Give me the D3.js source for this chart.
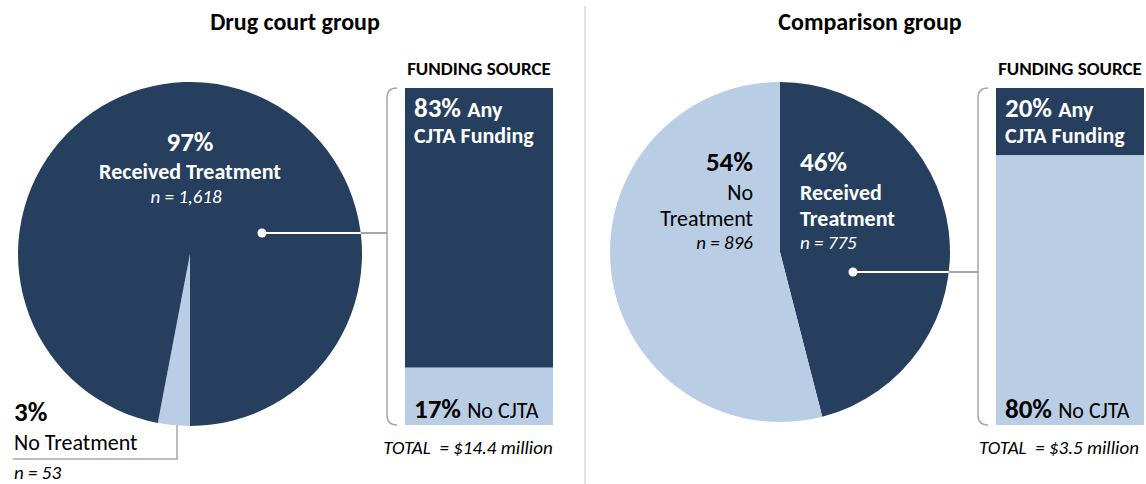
<!DOCTYPE html>
<html>
<head>
<meta charset="utf-8">
<script src="https://cdn.jsdelivr.net/npm/d3@7"></script>
<style>
body { margin: 0; background: #fff; }
text { font-family: Calibri, Carlito, Lato, sans-serif; }
</style>
</head>
<body>
<div id="chart"></div>
<script>
  // data
  var groups = ["Drug court group", "Comparison group"];
  var treatLabels = ["Received Treatment", "No Treatment"];
  var treatPct = [[97, 3], [46, 54]];
  var treatN = [[1618, 53], [775, 896]];
  var fundLabels = ["Any CJTA Funding", "No CJTA"];
  var fundPct = [[83, 17], [20, 80]];
  var totals = ["$14.4 million", "$3.5 million"];

  var width = 1146, height = 484;
  var dark = "#263f5f", light = "#b9cde5", gray = "#a6a6a6";
  var fBig = "27px", fMid = "22px", fSmall = "19px";

  var svg = d3.select("#chart").append("svg")
              .attr("width", width)
              .attr("height", height);

  var fmt = d3.format(",");

  // divider
  svg.append("line")
     .attr("x1", 585).attr("x2", 585)
     .attr("y1", 6).attr("y2", height)
     .style("stroke", "#c8c8c8").style("stroke-width", 1);

  // layout per panel (left, right)
  var panels = [
    {cx: 190, cy: 254, r: 172, start: Math.PI, order: [1, 0], title: 295,
     barX: 405, brX: 387, leadY: 233, dot: [262, 233]},
    {cx: 780, cy: 252, r: 170, start: 0, order: [0, 1], title: 870,
     barX: 996, brX: 978, leadY: 272, dot: [853, 272]}
  ];

  var barTop = 88, barBottom = 425, barW = 148;

  panels.forEach(function(p, gi) {
    var g = svg.append("g");

    g.append("text")
     .attr("x", p.title).attr("y", 30)
     .attr("text-anchor", "middle")
     .style("font-weight", "bold").style("font-size", "24px")
     .style("fill", "#000")
     .text(groups[gi]);

    // pie
    var slices = p.order.map(function(i) {
      return {i: i, value: treatPct[gi][i]};
    });
    var pie = d3.pie().sort(null).value(function(d) { return d.value; })
                .startAngle(p.start).endAngle(p.start + 2 * Math.PI);
    var arc = d3.arc().innerRadius(0).outerRadius(p.r);
    g.append("g")
     .attr("transform", "translate(" + p.cx + "," + p.cy + ")")
     .selectAll("path")
     .data(pie(slices))
     .enter().append("path")
     .attr("d", arc)
     .attr("fill", function(d) { return d.data.i == 0 ? dark : light; })
     .style("stroke", "none");

    // funding bar
    var y = d3.scaleLinear().domain([0, 100]).range([barTop, barBottom]);
    var cum = 0;
    fundPct[gi].forEach(function(v, i) {
      g.append("rect")
       .attr("x", p.barX).attr("width", barW)
       .attr("y", y(cum)).attr("height", y(cum + v) - y(cum))
       .attr("fill", i == 0 ? dark : light);
      cum += v;
    });

    g.append("text")
     .attr("x", p.barX + barW / 2).attr("y", 75)
     .attr("text-anchor", "middle")
     .style("font-weight", "bold").style("font-size", "19px")
     .text("FUNDING SOURCE");

    // bracket
    var bx = p.brX, rr = 10;
    g.append("path")
     .attr("d", "M" + (bx + rr) + "," + barTop + " Q" + bx + "," + barTop + " " + bx + "," + (barTop + rr) +
                " L" + bx + "," + (barBottom - rr) +
                " Q" + bx + "," + barBottom + " " + (bx + rr) + "," + barBottom)
     .style("fill", "none").style("stroke", gray).style("stroke-width", 1.5);

    // leader line
    var dy = p.leadY - p.cy;
    var edgeX = p.cx + Math.sqrt(p.r * p.r - dy * dy);
    g.append("line")
     .attr("x1", edgeX).attr("x2", bx).attr("y1", p.leadY).attr("y2", p.leadY)
     .style("stroke", gray).style("stroke-width", 2);
    g.append("line")
     .attr("x1", p.dot[0]).attr("x2", edgeX).attr("y1", p.leadY).attr("y2", p.leadY)
     .style("stroke", "#fff").style("stroke-width", 2);
    g.append("circle")
     .attr("cx", p.dot[0]).attr("cy", p.dot[1]).attr("r", 4.5)
     .attr("fill", "#fff");

    // bar labels
    var t1 = g.append("text").attr("x", p.barX + 9).attr("y", 117)
              .style("fill", "#fff").style("font-weight", "bold");
    t1.append("tspan").style("font-size", fBig).text(fundPct[gi][0] + "% ");
    t1.append("tspan").style("font-size", fMid).text(fundLabels[0].split(" ")[0]);
    g.append("text").attr("x", p.barX + 9).attr("y", 143)
     .style("fill", "#fff").style("font-weight", "bold").style("font-size", fMid)
     .text(fundLabels[0].split(" ").slice(1).join(" "));

    var t2 = g.append("text").attr("x", p.barX + 9).attr("y", 418)
              .style("fill", "#000");
    t2.append("tspan").style("font-size", fBig).style("font-weight", "bold").text(fundPct[gi][1] + "% ");
    t2.append("tspan").style("font-size", fMid).text(fundLabels[1]);

    g.append("text")
     .attr("x", p.barX + barW / 2 - 11).attr("y", 454)
     .attr("text-anchor", "middle")
     .style("font-style", "italic").style("font-size", fSmall)
     .text("TOTAL \u00a0= " + totals[gi]);
  });

  // left pie labels
  var L = svg.append("g");
  L.append("text").attr("x", 190).attr("y", 151).attr("text-anchor", "middle")
   .style("fill", "#fff").style("font-weight", "bold").style("font-size", fBig)
   .text(treatPct[0][0] + "%");
  L.append("text").attr("x", 190).attr("y", 179).attr("text-anchor", "middle")
   .style("fill", "#fff").style("font-weight", "bold").style("font-size", fMid)
   .text(treatLabels[0]);
  L.append("text").attr("x", 186).attr("y", 203).attr("text-anchor", "middle")
   .style("fill", "#fff").style("font-style", "italic").style("font-size", fSmall)
   .text("n = " + fmt(treatN[0][0]));

  L.append("text").attr("x", 14).attr("y", 421)
   .style("font-weight", "bold").style("font-size", fBig)
   .text(treatPct[0][1] + "%");
  L.append("text").attr("x", 14).attr("y", 450)
   .style("font-size", fMid)
   .text(treatLabels[1]);
  L.append("text").attr("x", 14).attr("y", 479)
   .style("font-style", "italic").style("font-size", fSmall)
   .text("n = " + fmt(treatN[0][1]));
  L.append("path")
   .attr("d", "M13,459 L177,459 L177,425")
   .style("fill", "none").style("stroke", gray).style("stroke-width", 1.5);

  // right pie labels
  var R = svg.append("g");
  var rl = [
    {x: 753, anchor: "end", fill: "#000", lines: [treatPct[1][1] + "%", "No", "Treatment", "n = " + fmt(treatN[1][1])], bold: false},
    {x: 800, anchor: "start", fill: "#fff", lines: [treatPct[1][0] + "%", "Received", "Treatment", "n = " + fmt(treatN[1][0])], bold: true}
  ];
  var ys = [171, 200, 226, 249];
  rl.forEach(function(d) {
    d.lines.forEach(function(s, k) {
      R.append("text").attr("x", d.x).attr("y", ys[k])
       .attr("text-anchor", d.anchor)
       .style("fill", d.fill)
       .style("font-size", k == 0 ? fBig : k == 3 ? fSmall : fMid)
       .style("font-weight", k == 0 || (d.bold && k < 3) ? "bold" : "normal")
       .style("font-style", k == 3 ? "italic" : "normal")
       .text(s);
    });
  });
</script>
</body>
</html>
